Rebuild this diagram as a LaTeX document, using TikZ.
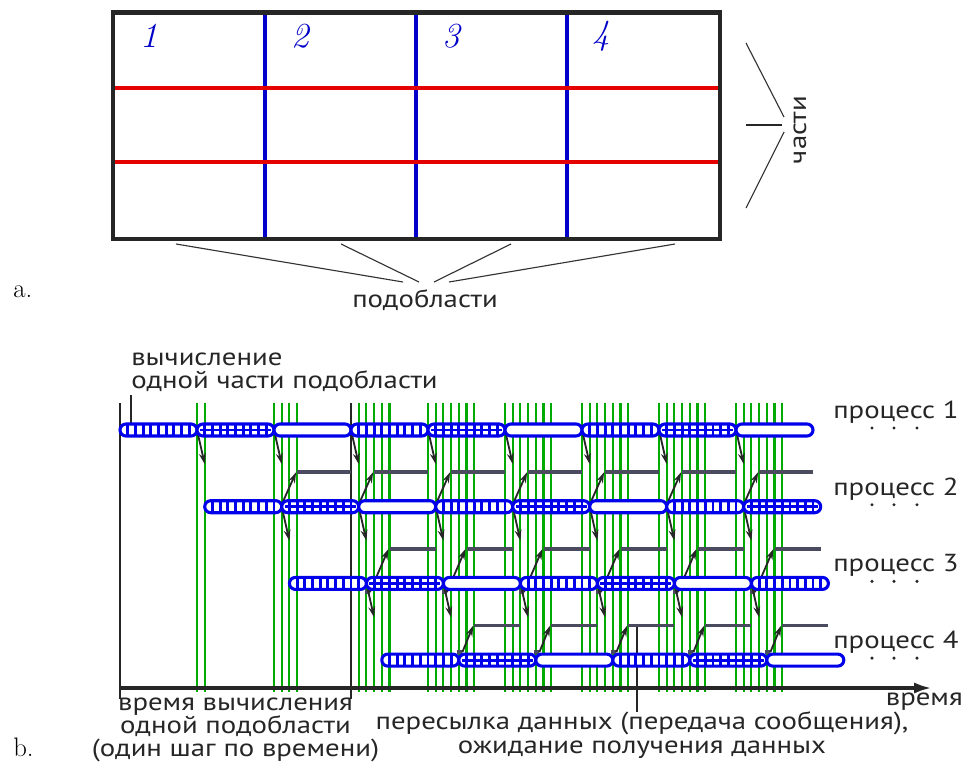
\documentclass[tikz,border=0pt]{standalone}
\usepackage{fontspec}
\setsansfont{PT Sans}[FakeStretch=1.17]
\usetikzlibrary{arrows.meta}
\definecolor{msggreen}{RGB}{0,170,0}
\definecolor{waitgray}{RGB}{75,75,95}
\definecolor{partblue}{RGB}{0,0,235}

\begin{document}
\begin{tikzpicture}[x=0.025cm, y=-0.025cm]
	\tikzset{lbl/.style={font=\sffamily\fontsize{17.5}{16.5}\selectfont, text=black!85, inner sep=0pt}}
	\tikzset{part/.style={draw=partblue, fill=white, line width=2.2pt, rounded corners=0.15cm}}
	\tikzset{hatch/.style={partblue, line width=2pt}}
	\tikzset{msg/.style={msggreen, line width=1.5pt}}
	\tikzset{send/.style={black!85, line width=1.3pt, -{Stealth[length=0.27cm, width=0.17cm]}}}
	\tikzset{wait/.style={waitgray, line width=2.6pt}}
	\useasboundingbox (0,0) rectangle (968,763);
	%domain
	\foreach \x in {265,416,567} \draw[partblue!85!black, line width=2.4pt] (\x,12.5) -- (\x,239);
	\foreach \y in {88,162} \draw[red!90!black, line width=2.8pt] (113,\y) -- (720,\y);
	\draw[black!85, line width=3pt] (113,12.5) rectangle (720,239);
	\foreach \n/\x in {1/149,2/300,3/451,4/601}
		\node[text=partblue!85!black, font=\itshape\fontsize{25}{26}\selectfont] (sub\n) at (\x,36) {\n};
	\draw[black!80, line width=0.8pt] (176,244) -- (403,282);
	\draw[black!80, line width=0.8pt] (341,244) -- (419,282);
	\draw[black!80, line width=0.8pt] (511,244) -- (434,282);
	\draw[black!80, line width=0.8pt] (675,244) -- (449,282);
	\draw[black!80, line width=0.8pt] (746,43) -- (784,117);
	\draw[black!85, line width=1.5pt] (746,125) -- (782,125);
	\draw[black!80, line width=0.8pt] (784,132) -- (746,208);
	\node[lbl, anchor=base] (subd) at (425,307) {подобласти};
	\node[lbl, anchor=base, rotate=90] (parts) at (806,130) {части};
	\node[font=\fontsize{19}{20}\selectfont, anchor=base west, inner sep=0pt] (a) at (13,297) {a.};
	%messages
	\foreach \c/\m in {10/1,20/3,30/5,40/6,50/6,60/6,70/6,80/6}
		\foreach \j in {0,...,\m} \draw[msg] ({120+7.7*(\c+\j)},403) -- ++(0,289);
	\draw[black!85, line width=1.3pt] (120,403) -- (120,699);
	\draw[black!85, line width=1.3pt] (351,403) -- (351,699);
	\draw[black!85, line width=1.3pt] (637,627) -- (637,712);
	\draw[black!85, line width=1.3pt] (131,395) -- (131,430);
	\draw[black!85, line width=3pt, -{Latex[length=0.45cm, width=0.28cm]}] (120,688) -- (932,688);
	%waiting and sending
	\foreach \q/\a/\n/\d/\g/\o/\s in {2/21/6/2/9/0/-1, 3/32/5/3/9/8.7/3.5, 4/44/4/2/8/-7.8/3.5} {
		\pgfmathsetmacro\yq{430+76.7*(\q-1)}
		\foreach \k in {0,...,\n} {
			\pgfmathsetmacro\xb{120+7.7*(\a+10*\k)}
			\draw[wait] ({\xb+7.7*\d},\yq-34.5) -- ({\xb+7.7*\g},\yq-34.5);
			\draw[wait] ({\xb-1.5},\yq+\o) -- ({\xb+\s},\yq+\o);
			\draw[send] ({\xb+\s},\yq+\o) -- ({\xb+7.7*\d-1},\yq-34.5);
		}
	}
	\foreach \p/\a/\n in {1/10/7, 2/21/6, 3/32/5} {
		\pgfmathsetmacro\yp{430+76.7*(\p-1)}
		\foreach \k in {0,...,\n} {
			\pgfmathsetmacro\xb{120+7.7*(\a+10*\k)}
			\draw[send] (\xb,\yp) -- ({\xb+7.7},\yp+34);
		}
	}
	%processes
	\foreach \p/\s/\n in {1/0/9, 2/11/8, 3/22/7, 4/34/6} {
		\pgfmathsetmacro\yp{430+76.7*(\p-1)}
		\foreach \k in {1,...,\n} {
			\pgfmathsetmacro\xa{120+7.7*(\s+10*(\k-1))}
			\pgfmathtruncatemacro\kind{mod(\k-1,3)}
			\draw[part] (\xa,\yp-6) rectangle ({\xa+77},\yp+6);
			\ifnum\kind<2
				\foreach \i in {1,...,9} \draw[hatch] ({\xa+7.7*\i},\yp-6) -- ({\xa+7.7*\i},\yp+6);
			\fi
			\ifnum\kind=1
				\draw[hatch] ({\xa+3},\yp) -- ({\xa+74},\yp);
			\fi
		}
		\node[lbl, anchor=base west] (proc\p) at (833,\yp-11.7) {процесс \p};
		\foreach \d in {872,894,917} \fill[black!85] (\d,\yp-2) circle (1.2pt);
	}
	%labels
	\node[lbl, anchor=base west, align=left] (calc) at (131,388.3) {вычисление\\одной части подобласти};
	\node[lbl, anchor=base, align=center] (step) at (235.5,756.7) {время вычисления\\одной подобласти\\(один шаг по времени)};
	\node[lbl, anchor=base, align=center] (send) at (642,753) {пересылка данных (передача сообщения),\\ожидание получения данных};
	\node[lbl, anchor=base east] (time) at (963,705) {время};
	\node[font=\fontsize{19}{20}\selectfont, anchor=base west, inner sep=0pt] (b) at (13,756) {b.};
\end{tikzpicture}
\end{document}
